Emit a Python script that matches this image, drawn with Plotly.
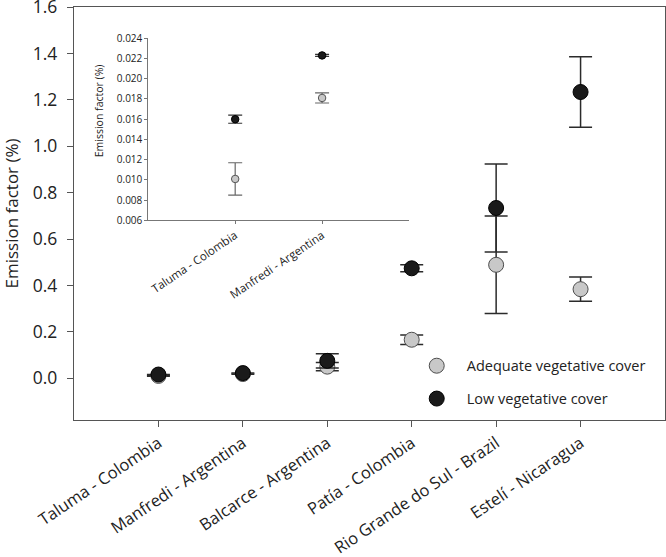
import plotly.graph_objects as go

# ---------------- data ----------------
sites = ["Taluma - Colombia", "Manfredi - Argentina", "Balcarce - Argentina",
         "Patía - Colombia", "Rio Grande do Sul - Brazil", "Estelí - Nicaragua"]
adequate = [0.0101, 0.0181, 0.050, 0.166, 0.489, 0.384]
adequate_err = [0.0016, 0.0005, 0.018, 0.020, 0.210, 0.052]
low = [0.0160, 0.0223, 0.075, 0.474, 0.734, 1.234]
low_err = [0.0004, 0.0001, 0.031, 0.015, 0.190, 0.152]

inset_sites = sites[:2]
inset_adequate = adequate[:2]
inset_adequate_err = adequate_err[:2]
inset_low = low[:2]
inset_low_err = low_err[:2]

main_yticks = [0.0, 0.2, 0.4, 0.6, 0.8, 1.0, 1.2, 1.4, 1.6]
inset_yticks = [0.006, 0.008, 0.010, 0.012, 0.014, 0.016, 0.018, 0.020, 0.022, 0.024]

FONT = "Open Sans"
GRAY = "#c8c8c8"
DARK = "#1a1a1a"
AXIS = "#555555"

fig = go.Figure()

# main traces
fig.add_trace(go.Scatter(
    x=sites, y=adequate, mode="markers", name="Adequate vegetative cover",
    legendgroup="a",
    marker=dict(size=15, color=GRAY, line=dict(color="#4d4d4d", width=1)),
    error_y=dict(type="data", array=adequate_err, color="#2b2b2b", thickness=1.5, width=11.5),
    xaxis="x", yaxis="y"))
fig.add_trace(go.Scatter(
    x=sites, y=low, mode="markers", name="Low vegetative cover",
    legendgroup="b",
    marker=dict(size=15, color=DARK, line=dict(color="#000000", width=1)),
    error_y=dict(type="data", array=low_err, color="#2b2b2b", thickness=1.5, width=11.5),
    xaxis="x", yaxis="y"))

# inset traces
fig.add_trace(go.Scatter(
    x=inset_sites, y=inset_adequate, mode="markers", showlegend=False,
    marker=dict(size=7.5, color=GRAY, line=dict(color="#555555", width=1)),
    error_y=dict(type="data", array=inset_adequate_err, color="#666666", thickness=1.2, width=7),
    xaxis="x2", yaxis="y2"))
fig.add_trace(go.Scatter(
    x=inset_sites, y=inset_low, mode="markers", showlegend=False,
    marker=dict(size=7.5, color=DARK, line=dict(color="#000000", width=1)),
    error_y=dict(type="data", array=inset_low_err, color="#333333", thickness=1.2, width=7),
    xaxis="x2", yaxis="y2"))

fig.update_layout(
    width=666, height=557,
    margin=dict(l=74, r=1, t=7, b=137, autoexpand=False),
    paper_bgcolor="white", plot_bgcolor="white",
    font=dict(family=FONT, color="#222222"),
    xaxis=dict(
        type="category", categoryorder="array", categoryarray=sites,
        range=[-1, 6], showline=True, linecolor=AXIS, linewidth=1.3, mirror=True,
        ticks="outside", ticklen=6, tickcolor=AXIS, tickangle=-34, automargin=False,
        tickfont=dict(size=16.5), showgrid=False, zeroline=False),
    yaxis=dict(
        range=[-0.18, 1.6005], tickvals=main_yticks, tickformat=".1f",
        showline=True, linecolor=AXIS, linewidth=1.3, mirror=True, automargin=False,
        ticks="outside", ticklen=6, tickcolor=AXIS, ticklabelstandoff=6,
        ticklabeloverflow="allow",
        tickfont=dict(size=17.5), showgrid=False, zeroline=False,
        title=dict(text="Emission factor (%)", font=dict(size=17), standoff=18)),
    xaxis2=dict(
        domain=[0.1257, 0.5668], anchor="y2", automargin=False,
        type="category", categoryorder="array", categoryarray=inset_sites,
        range=[-1, 2], showline=True, linecolor="#777777", linewidth=1,
        ticks="outside", ticklen=3, tickcolor="#777777", tickangle=-34,
        tickfont=dict(size=11.5), showgrid=False, zeroline=False),
    yaxis2=dict(
        domain=[0.4831, 0.9244], anchor="x2", automargin=False,
        range=[0.006, 0.024], tickvals=inset_yticks, tickformat=".3f",
        showline=True, linecolor="#777777", linewidth=1,
        ticks="outside", ticklen=3, tickcolor="#777777",
        ticklabeloverflow="allow",
        tickfont=dict(size=10), showgrid=False, zeroline=False),
    annotations=[dict(
        text="Emission factor (%)", textangle=-90, xref="paper", yref="paper",
        x=0.0423, y=0.75, xanchor="center", yanchor="middle", showarrow=False,
        font=dict(size=10.5, color="#222222"))],
    legend=dict(x=0.563, y=0.170, xanchor="left", yanchor="top",
                font=dict(size=14.5), itemwidth=50, tracegroupgap=11,
                bgcolor="rgba(0,0,0,0)"),
)

fig.write_html("out.html", config={"displayModeBar": False},
               post_script="document.body.style.margin='0';document.body.style.overflow='hidden';")
